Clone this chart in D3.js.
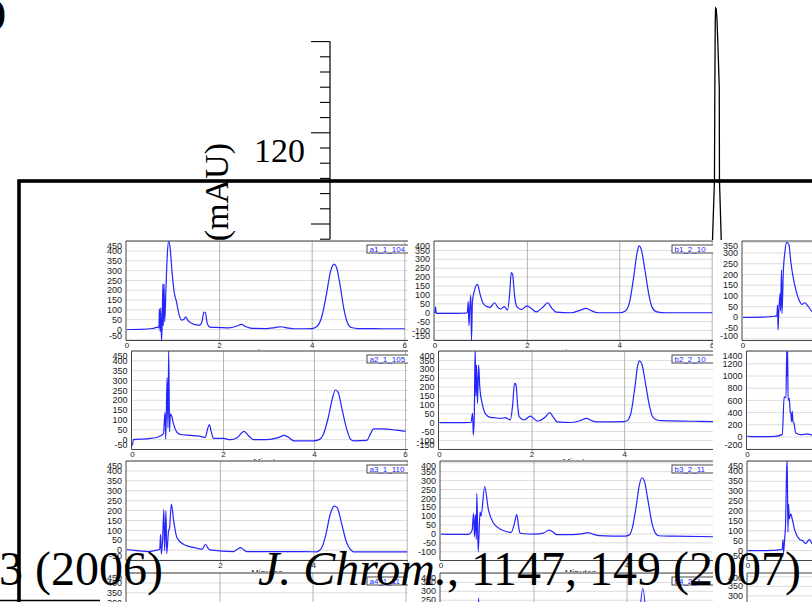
<!DOCTYPE html>
<html><head><meta charset="utf-8">
<script src="https://cdn.jsdelivr.net/npm/d3@7"></script>
<style>html,body{margin:0;padding:0;background:#fff;overflow:hidden}</style>
</head><body>
<svg id="chart" width="812" height="602"></svg>
<script>
// ---------------- DATA ----------------
// background (large) figure: vertical absorbance axis and one tall peak
const bgAxisTicks = [134,132,130,128,126,124,122,120,118,116,114,112,110,108];
const bgMajorTicks = [134,122,110];
const bgAxisLabel = "120";
const bgAxisTitle = "(mAU)";
const bgPeak = [[12.960,106.5],[12.984,115.8],[12.988,128],[12.992,136.5],[12.996,138.4],[13.002,138.3],[13.010,137.0],[13.020,133.5],[13.034,128],[13.036,115.8],[13.058,106.5]];
const panelLetter = "(a)";
const citeLeft = "3 (2006)";
const citeRightItalic = "J. Chrom.";
const citeRightRest = ", 1147, 149 (2007)";

// inset chromatograms
const panelIds = ["a1","b1","c1","a2","b2","c2","a3","b3","c3","a4","b4","c4"];
const legendLabels = ["a1_1_104","b1_2_10","c1_3_10","a2_1_105","b2_2_10","c2_3_10","a3_1_110","b3_2_11","c3_3_11","a4_1_11","b4_2_1","c4_3_1"];
const yDomains = [[-56,451],[-156,403],[-108,356],[-50,450],[-151,403],[-205,1410],[-52,450],[-149,410],[-50,452],[-50,450],[-150,402],[-100,420]];
const yTickSteps = [50,50,50,50,50,200,50,50,50,50,50,50];
const xTickValues = [0,2,4,6];
const xAxisTitle = "Minutes";

const a1 = [[0,0],[0.3,1],[0.55,5],[0.66,12],[0.69,8],[0.70,105],[0.715,-10],[0.73,110],[0.745,-58],[0.76,30],[0.775,232],[0.785,20],[0.80,232],[0.815,40],[0.84,200],[0.87,380],[0.9,450],[0.93,420],[0.97,300],[1.02,190],[1.07,140],[1.12,80],[1.18,48],[1.23,52],[1.27,65],[1.31,48],[1.37,35],[1.47,25],[1.57,22],[1.62,40],[1.66,88],[1.69,88],[1.73,35],[1.79,12],[2.0,10],[2.2,8],[2.38,18],[2.47,26],[2.57,14],[2.7,6],[3.0,5],[3.2,10],[3.33,14],[3.45,8],[3.6,4],[4.0,5],[4.1,15],[4.2,60],[4.3,170],[4.4,300],[4.47,333],[4.52,320],[4.6,230],[4.68,110],[4.76,35],[4.85,10],[5.0,5],[5.5,4],[6.0,4]];
const b1 = [[0,-2],[0.01,33],[0.03,-4],[0.3,-4],[0.6,-3],[0.7,0],[0.72,62],[0.735,-73],[0.75,10],[0.775,99],[0.79,-154],[0.81,60],[0.85,120],[0.92,159],[0.97,110],[1.04,53],[1.12,35],[1.19,30],[1.29,56],[1.36,30],[1.42,21],[1.5,34],[1.57,15],[1.62,120],[1.65,225],[1.68,215],[1.72,100],[1.77,34],[1.87,18],[1.99,39],[2.08,25],[2.19,5],[2.35,35],[2.44,56],[2.53,25],[2.62,3],[2.95,0],[3.15,15],[3.27,24],[3.38,12],[3.52,0],[4.0,0],[4.12,10],[4.22,70],[4.3,200],[4.38,345],[4.42,376],[4.47,350],[4.55,230],[4.63,100],[4.7,30],[4.8,5],[5.0,0],[6.0,0]];
const c1 = [[0,0],[0.4,1],[0.68,5],[0.73,8],[0.745,57],[0.755,-59],[0.77,20],[0.8,112],[0.81,30],[0.83,221],[0.84,18],[0.87,220],[0.9,300],[0.94,350],[0.99,338],[1.03,260],[1.07,200],[1.14,127],[1.21,80],[1.27,60],[1.33,68],[1.4,52],[1.49,27],[1.55,20]];
const a2 = [[0,-30],[0.02,0],[0.3,4],[0.55,12],[0.68,31],[0.715,139],[0.73,2],[0.76,314],[0.78,60],[0.795,460],[0.815,39],[0.83,131],[0.86,120],[0.9,81],[0.97,39],[1.05,26],[1.27,22],[1.49,17],[1.6,11],[1.65,55],[1.69,77],[1.73,40],[1.78,6],[2.0,6],[2.15,0],[2.3,10],[2.45,42],[2.55,20],[2.66,0],[2.95,0],[3.2,10],[3.34,22],[3.45,8],[3.54,-6],[3.98,-6],[4.1,0],[4.2,30],[4.3,110],[4.4,215],[4.46,252],[4.52,240],[4.6,160],[4.7,60],[4.8,0],[4.86,-6],[5.15,-4],[5.22,25],[5.3,55],[5.5,55],[5.8,48],[6.0,42]];
const b2 = [[0,0],[0.4,0],[0.68,2],[0.715,53],[0.73,-70],[0.75,20],[0.77,420],[0.785,150],[0.80,324],[0.82,109],[0.845,324],[0.87,200],[0.93,99],[1.0,47],[1.1,30],[1.18,28],[1.33,24],[1.42,28],[1.53,15],[1.58,100],[1.62,221],[1.65,215],[1.69,90],[1.72,34],[1.83,15],[1.96,37],[2.03,25],[2.11,9],[2.28,30],[2.38,56],[2.46,30],[2.54,4],[2.83,1],[3.05,12],[3.17,24],[3.28,12],[3.4,4],[3.98,6],[4.06,12],[4.14,60],[4.22,200],[4.28,320],[4.32,348],[4.37,330],[4.45,220],[4.53,100],[4.6,35],[4.69,15],[4.8,11],[5.5,8],[6.0,5]];
const c2 = [[0,10],[0.35,5],[0.6,10],[0.75,43],[0.79,660],[0.83,640],[0.845,1400],[0.855,1000],[0.865,1410],[0.875,600],[0.9,634],[0.92,415],[0.935,380],[0.95,254],[0.965,420],[0.98,250],[1.0,230],[1.04,65],[1.15,38],[1.29,50],[1.4,30],[1.55,20]];
const a3 = [[0,3],[0.2,-2],[0.45,-7],[0.64,0],[0.7,5],[0.72,80],[0.735,-20],[0.76,40],[0.79,205],[0.805,-3],[0.835,197],[0.85,-17],[0.89,97],[0.91,110],[0.95,233],[1.0,147],[1.07,63],[1.21,30],[1.5,10],[1.61,5],[1.68,30],[1.74,8],[1.78,2],[2.28,-7],[2.36,5],[2.43,13],[2.5,2],[2.57,-7],[3.42,-7],[4.06,-8],[4.15,5],[4.25,70],[4.35,180],[4.44,222],[4.5,215],[4.6,130],[4.7,40],[4.78,5],[4.85,-8],[6.0,-8]];
const b3 = [[0,-1],[0.3,-2],[0.59,-2],[0.67,22],[0.7,116],[0.72,-15],[0.74,109],[0.76,-30],[0.77,228],[0.8,-100],[0.84,125],[0.86,100],[0.94,266],[1.02,135],[1.13,60],[1.31,22],[1.51,9],[1.57,50],[1.63,109],[1.67,40],[1.7,4],[2.03,-1],[2.2,5],[2.33,22],[2.42,8],[2.49,-4],[2.82,-4],[3.05,2],[3.16,8],[3.28,-2],[3.4,-9],[3.96,-12],[4.05,-5],[4.12,40],[4.2,160],[4.27,280],[4.32,316],[4.37,300],[4.45,190],[4.53,70],[4.6,10],[4.68,-10],[5.0,-12],[6.0,-16]];
const c3 = [[0,0],[0.4,0],[0.72,5],[0.74,10],[0.755,55],[0.765,-12],[0.79,60],[0.81,135],[0.83,385],[0.845,460],[0.86,93],[0.875,235],[0.89,160],[0.92,185],[0.96,152],[1.0,110],[1.05,77],[1.12,55],[1.18,50],[1.24,35],[1.32,55],[1.38,35],[1.45,25]];
const a4 = [];
const b4 = [[0,0],[0.78,0],[0.81,262],[0.84,0],[4.2,0],[4.34,316],[4.48,0],[6,0]];
const c4 = [];
const seriesList = [a1,b1,c1,a2,b2,c2,a3,b3,c3,a4,b4,c4];

// ---------------- LAYOUT ----------------
const W = 812, H = 602;
const colLeft = [103, 408, 713];
const rowTop = [240, 350, 460, 572];
const plotTop = [241, 351, 461, 573];
const plotBottom = [340.5, 449.5, 560.5, 672];
const axisX = [126,434,742, 131.5,438.5,746.5, 126,440,747, 126,440,747];
const pxPerMin = [46.3,46.2,46.4, 45.5,46.3,46.4, 46.7,46.5,46.4, 46.5,46.5,46.4];
const curveColor = "#2424ff";

const svg = d3.select("#chart");
svg.append("rect").attr("width",W).attr("height",H).attr("fill","#fff");

// ---------------- BACKGROUND FIGURE ----------------
const bg = svg.append("g");
const bgY = d3.scaleLinear().domain([110,120]).range([224,148]);
const bgX = d3.scaleLinear().domain([12,14]).range([620,812]);
const serif = "'Liberation Serif','Times New Roman',serif";

bg.append("text").text(panelLetter).attr("x",6).attr("y",24)
  .attr("text-anchor","end").attr("font-family",serif).attr("font-weight","bold")
  .attr("font-size",36).attr("fill","#000");

bg.append("line").attr("x1",330).attr("x2",330)
  .attr("y1",bgY(bgAxisTicks[0])).attr("y2",bgY(bgAxisTicks[bgAxisTicks.length-1]))
  .attr("stroke","#000").attr("stroke-width",1.2);
bg.selectAll("line.tk").data(bgAxisTicks).join("line").attr("class","tk")
  .attr("x1",d=>bgMajorTicks.includes(d)?311:320).attr("x2",330)
  .attr("y1",d=>bgY(d)).attr("y2",d=>bgY(d))
  .attr("stroke","#000").attr("stroke-width",1.1);
bg.append("text").text(bgAxisLabel).attr("x",305).attr("y",162)
  .attr("text-anchor","end").attr("font-family",serif).attr("font-size",34).attr("fill","#000");
bg.append("text").text(bgAxisTitle)
  .attr("transform","translate(228,143) rotate(-90)")
  .attr("text-anchor","end").attr("font-family",serif).attr("font-size",34).attr("fill","#000");

bg.append("rect").attr("x",19).attr("y",181).attr("width",900).attr("height",600)
  .attr("fill","none").attr("stroke","#000").attr("stroke-width",3.6);

bg.append("path").datum(bgPeak)
  .attr("d",d3.line().x(d=>bgX(d[0])).y(d=>bgY(d[1])).curve(d3.curveLinear))
  .attr("fill","none").attr("stroke","#000").attr("stroke-width",1.3);

// ---------------- INSET PANELS ----------------
const sans = "'Liberation Sans',Arial,sans-serif";
panelIds.forEach((id,i)=>{
  const r = Math.floor(i/3), c = i%3;
  const g = svg.append("g");
  const left = colLeft[c], top = rowTop[r];
  const pw = (c<2 ? colLeft[c+1] : W) - left + 2;
  const ph = (r<3 ? rowTop[r+1] : H) - top + 2;
  const clipPanel = "cp_"+id;
  g.append("clipPath").attr("id",clipPanel).append("rect")
    .attr("x",left).attr("y",top).attr("width",pw).attr("height",ph);
  const pg = g.append("g").attr("clip-path",`url(#${clipPanel})`);
  pg.append("rect").attr("x",left).attr("y",top).attr("width",pw).attr("height",ph).attr("fill","#fff");

  const x0 = axisX[i];
  const pt = plotTop[r], pb = plotBottom[r];
  const xs = d3.scaleLinear().domain([0,6]).range([x0+1, x0+1+6*pxPerMin[i]]);
  const ys = d3.scaleLinear().domain(yDomains[i]).range([pb, pt]);
  const plotRight = left + 330;

  // gridlines
  const step = yTickSteps[i];
  const yt = d3.range(Math.ceil(yDomains[i][0]/step)*step, yDomains[i][1]+1, step);
  pg.selectAll("line.hg").data(yt).join("line").attr("class","hg")
    .attr("x1",x0).attr("x2",plotRight).attr("y1",d=>ys(d)).attr("y2",d=>ys(d))
    .attr("stroke","#dcdcdc").attr("stroke-width",1);
  pg.selectAll("line.vg").data(xTickValues.filter(v=>v>0)).join("line").attr("class","vg")
    .attr("x1",d=>xs(d)).attr("x2",d=>xs(d)).attr("y1",pt).attr("y2",pb+3)
    .attr("stroke","#b4b4b4").attr("stroke-width",1);

  // frame
  pg.append("path").attr("d",`M${plotRight},${pt}H${x0}V${pb}H${plotRight}`)
    .attr("fill","none").attr("stroke","#444").attr("stroke-width",1);

  // y labels
  pg.selectAll("text.yl").data(yt).join("text").attr("class","yl")
    .attr("x",x0-4).attr("y",d=>Math.max(pt+4.5, Math.min(pb-4.5, ys(d))))
    .attr("dy","0.35em").attr("text-anchor","end")
    .attr("font-family",sans).attr("font-size",9).attr("fill","#1a1a1a")
    .text(d=>d);
  // x labels
  pg.selectAll("text.xl").data(xTickValues).join("text").attr("class","xl")
    .attr("x",d=>xs(d)).attr("y",pb+7.5).attr("text-anchor","middle")
    .attr("font-family",sans).attr("font-size",8).attr("fill","#1a1a1a").text(d=>d);
  pg.append("text").attr("x",(xs(0)+xs(6))/2).attr("y",pb+15.5).attr("text-anchor","middle")
    .attr("font-family",sans).attr("font-size",9).attr("fill","#1a1a1a").text(xAxisTitle);

  // curve
  const clipPlot = "pp_"+id;
  g.append("clipPath").attr("id",clipPlot).append("rect")
    .attr("x",x0).attr("y",pt).attr("width",400).attr("height",pb-pt);
  if (seriesList[i].length) {
    pg.append("g").attr("clip-path",`url(#${clipPlot})`).append("path")
      .datum(seriesList[i])
      .attr("d",d3.line().x(d=>xs(d[0])).y(d=>ys(d[1])).curve(d3.curveMonotoneX))
      .attr("fill","none").attr("stroke",curveColor).attr("stroke-width",1.2);
  }

  // legend box
  const lx = left + 264, ly = pt + 4;
  pg.append("rect").attr("x",lx).attr("y",ly).attr("width",70).attr("height",8)
    .attr("fill","#fff").attr("stroke","#333").attr("stroke-width",0.9);
  pg.append("text").attr("x",lx+2.5).attr("y",ly+7).attr("font-family",sans)
    .attr("font-size",8).attr("fill",curveColor).text(legendLabels[i]);
});

// ---------------- CITATION TEXT (on top) ----------------
const cite = svg.append("g").attr("font-family",serif).attr("font-size",48).attr("fill","#000");
cite.append("text").attr("x",-1).attr("y",585).text(citeLeft);
const t2 = cite.append("text").attr("x",258).attr("y",585);
t2.append("tspan").attr("font-style","italic").text(citeRightItalic);
t2.append("tspan").text(citeRightRest);
svg.append("line").attr("x1",0).attr("x2",100).attr("y1",600.5).attr("y2",600.5)
  .attr("stroke","#000").attr("stroke-width",1.5);
</script>
</body></html>
